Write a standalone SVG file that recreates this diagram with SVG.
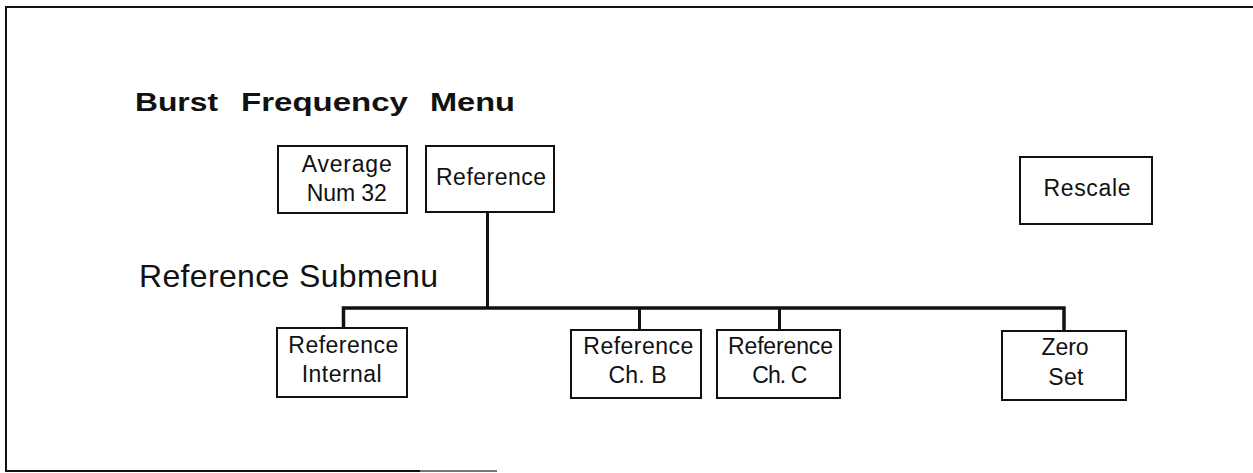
<svg xmlns="http://www.w3.org/2000/svg" width="1253" height="473" viewBox="0 0 1253 473">
  <style>
    .box { fill: #ffffff; stroke: #111111; stroke-width: 2; }
    .lbl { font-family: "Liberation Sans", Arial, Helvetica, sans-serif; font-size: 23px; fill: #111111; text-anchor: middle; }
    .title { font-family: "Liberation Sans", Arial, Helvetica, sans-serif; font-size: 26px; font-weight: bold; fill: #111111; }
    .sub { font-family: "Liberation Sans", Arial, Helvetica, sans-serif; font-size: 32px; fill: #111111; }
    .wire { fill: none; stroke: #111111; stroke-width: 3; stroke-linejoin: miter; }
    .bus { fill: none; stroke: #111111; stroke-width: 3.5; }
  </style>

  <rect width="1253" height="473" fill="#ffffff"/>

  <!-- page frame: open on the right, bottom edge fades out -->
  <g id="frame" fill="none" stroke-width="2">
    <path d="M1253 7 H6 V471 H420" stroke="#111111"/>
    <path d="M420 471 H497" stroke="#777777"/>
  </g>

  <!-- headings -->
  <g id="heading">
    <text class="title" x="135" y="111" textLength="83" lengthAdjust="spacingAndGlyphs">Burst</text>
    <text class="title" x="241" y="111" textLength="167" lengthAdjust="spacingAndGlyphs">Frequency</text>
    <text class="title" x="430" y="111" textLength="85" lengthAdjust="spacingAndGlyphs">Menu</text>
  </g>
  <text id="submenu-heading" class="sub" x="139" y="287" textLength="299">Reference Submenu</text>

  <!-- connectors -->
  <g id="connectors">
    <path class="wire" d="M487.5 212 V308"/>
    <path class="bus" d="M343.5 329 V308 H1064 V331"/>
    <path class="wire" d="M639.5 308 V330"/>
    <path class="wire" d="M779.5 308 V330"/>
  </g>

  <!-- top-level menu nodes -->
  <g id="node-average">
    <rect class="box" x="278" y="146" width="129" height="67"/>
    <text class="lbl" x="346.7" y="172" textLength="90">Average</text>
    <text class="lbl" x="346.7" y="201" textLength="80">Num 32</text>
  </g>
  <g id="node-reference">
    <rect class="box" x="426" y="146" width="128" height="66"/>
    <text class="lbl" x="491" y="185" textLength="110">Reference</text>
  </g>
  <g id="node-rescale">
    <rect class="box" x="1020" y="157" width="132" height="67"/>
    <text class="lbl" x="1087" y="196" textLength="87">Rescale</text>
  </g>

  <!-- submenu nodes -->
  <g id="node-ref-internal">
    <rect class="box" x="277" y="328" width="130" height="69"/>
    <text class="lbl" x="343.3" y="353" textLength="110">Reference</text>
    <text class="lbl" x="341.7" y="382" textLength="80">Internal</text>
  </g>
  <g id="node-ref-chb">
    <rect class="box" x="571" y="330" width="130" height="68"/>
    <text class="lbl" x="638.3" y="353.5" textLength="110">Reference</text>
    <text class="lbl" x="637.5" y="382.5" textLength="58">Ch. B</text>
  </g>
  <g id="node-ref-chc">
    <rect class="box" x="717" y="330" width="123" height="68"/>
    <text class="lbl" x="780.5" y="353.5" textLength="105">Reference</text>
    <text class="lbl" x="779.8" y="382.5" textLength="55">Ch. C</text>
  </g>
  <g id="node-zero-set">
    <rect class="box" x="1002" y="331" width="124" height="69"/>
    <text class="lbl" x="1065" y="355" textLength="47">Zero</text>
    <text class="lbl" x="1065.8" y="384.5" textLength="35">Set</text>
  </g>
</svg>
